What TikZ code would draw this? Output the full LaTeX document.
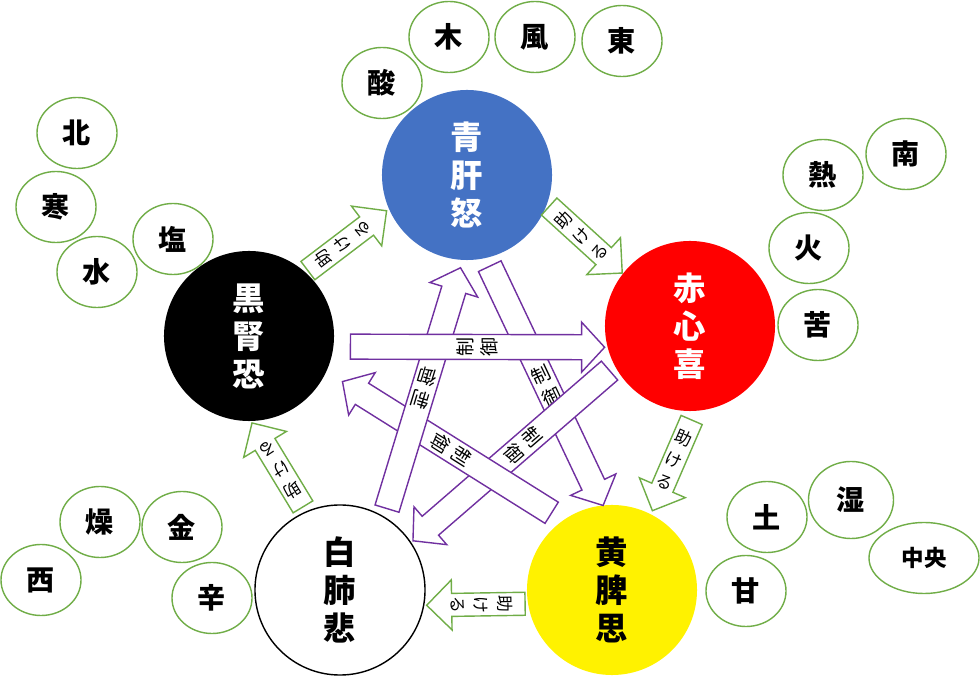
\documentclass[tikz,border=0pt]{standalone}
\usepackage{fontspec}
\newfontfamily\jp{Noto Sans CJK JP}
\usetikzlibrary{calc,shapes.geometric}

\definecolor{aoblue}{HTML}{4472C4}
\definecolor{grn}{HTML}{70AD47}
\definecolor{prp}{HTML}{7030A0}

\tikzset{
  arrsw/.store in=\arrsw, arrhw/.store in=\arrhw, arrhl/.store in=\arrhl,
  arrpos/.store in=\arrpos, arrtext/.store in=\arrtext, arrfont/.store in=\arrfont,
  fatarrow/.style={to path={
    let \p1=(\tikztostart), \p2=(\tikztotarget),
        \n1={atan2(\y2-\y1,\x2-\x1)}, \n2={veclen(\x2-\x1,\y2-\y1)} in
    ($(\p1)+(\n1+90:\arrsw)$) -- ($(\p1)+(\n1:\n2-\arrhl)+(\n1+90:\arrsw)$)
    -- ($(\p1)+(\n1:\n2-\arrhl)+(\n1+90:\arrhw)$) -- (\p2)
    -- ($(\p1)+(\n1:\n2-\arrhl)+(\n1-90:\arrhw)$)
    -- ($(\p1)+(\n1:\n2-\arrhl)+(\n1-90:\arrsw)$)
    -- ($(\p1)+(\n1-90:\arrsw)$) -- cycle
    ($(\p1)!\arrpos!(\p2)$) node[rotate=\n1+90, align=center, inner sep=0pt,
      font=\arrfont] {\arrtext}
  }}
}

\begin{document}
\begin{tikzpicture}[x=0.025cm,y=0.025cm,line join=miter,
  big/.style={circle,minimum size=4.25cm,inner sep=0pt,outer sep=0pt,align=center,
    font=\jp\bfseries\fontsize{23}{27}\selectfont},
  small/.style={ellipse,draw=grn,line width=1pt,fill=white,minimum width=2cm,
    minimum height=1.775cm,inner sep=0pt,font=\jp\bfseries\fontsize{20}{20}\selectfont},
  helps/.style={fatarrow,draw=grn,fill=white,line width=1pt,arrsw=0.2875cm,
    arrhw=0.625cm,arrhl=0.625cm,arrpos=0.44,arrtext={助\\け\\る},
    arrfont=\jp\fontsize{12}{17}\selectfont},
  ctrl/.style={fatarrow,draw=prp,fill=white,line width=1pt,arrsw=0.3125cm,
    arrhw=0.625cm,arrhl=0.575cm,arrpos=0.5,arrtext={制\\御},
    arrfont=\jp\fontsize{13.5}{17.5}\selectfont}]
\useasboundingbox (0,0) rectangle (980,677);

% five organs
\node[big,fill=aoblue,text=white] (ao) at (467,502) {青\\肝\\怒};
\node[big,fill=red,text=white] (aka) at (690,351) {赤\\心\\喜};
\node[big,fill=yellow] (ki) at (612,87) {黄\\脾\\思};
\node[big,draw=black,line width=1pt,fill=white] (shiro) at (340,87) {白\\肺\\悲};
\node[big,fill=black,text=white] (kuro) at (249,341) {黒\\腎\\恐};

% attributes
\node[small] (san) at (382,594) {酸};
\node[small] (moku) at (449,640) {木};
\node[small] (fuu) at (535,640) {風};
\node[small] (higashi) at (622,636) {東};
\node[small] (kita) at (77,544) {北};
\node[small] (kan) at (56,470) {寒};
\node[small] (sui) at (97,405) {水};
\node[small] (en) at (173,438) {塩};
\node[small] (minami) at (906,523) {南};
\node[small] (netsu) at (823,502) {熱};
\node[small] (ka) at (809,429) {火};
\node[small] (ku) at (818,352) {苦};
\node[small] (do) at (767,160) {土};
\node[small,minimum width=2.125cm,minimum height=1.925cm] (shitsu) at (851,177) {湿};
\node[small,minimum width=2.75cm,font=\jp\bfseries\fontsize{16}{16}\selectfont] (chuuou) at (924,119) {中央};
\node[small] (kan2) at (746,86) {甘};
\node[small] (sou) at (100,155) {燥};
\node[small] (kin) at (182,150) {金};
\node[small] (nishi) at (41,97) {西};
\node[small] (shin) at (212,79) {辛};

% generating cycle
\draw[helps] ($(kuro)+(48:88)$) to ($(ao)+(204:88)$);
\draw[helps] ($(ao)+(-21:88)$) to ($(aka)+(142:86)$);
\draw[helps] ($(aka)+(-89:94)$) to ($(ki)+(63:89)$);
\draw[helps] ($(ki)+(189:88)$) to ($(shiro)+(-10:88)$);
\draw[helps] ($(shiro)+(114:91)$) to ($(kuro)+(-88:87)$);

% controlling cycle
\draw[ctrl] ($(ao)+(-76:94)$) to ($(ki)+(96:85)$);
\draw[ctrl,arrpos=0.44] ($(aka)+(209:92)$) to ($(shiro)+(34:88)$);
\draw[ctrl,arrpos=0.48] ($(ki)+(128:98)$) to ($(kuro)+(-26:104)$);
\draw[ctrl] ($(shiro)+(60:94)$) to ($(ao)+(-94:93)$);
\draw[ctrl] ($(kuro)+(-6:102)$) to ($(aka)+(194:88)$);
\end{tikzpicture}
\end{document}
